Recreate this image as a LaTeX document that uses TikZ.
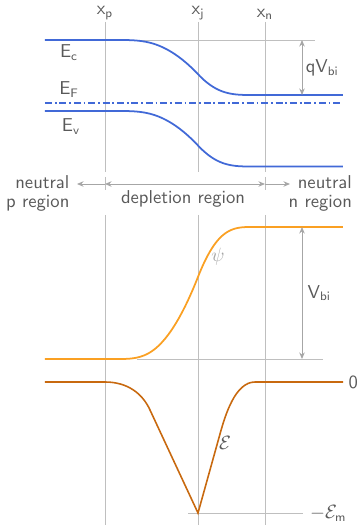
\documentclass[tikz,border=0pt]{standalone}
\usetikzlibrary{arrows.meta, positioning, calc}
\usepackage{xcolor}
\usepackage{amsmath}
\definecolor{bandblue}{RGB}{65,105,215}
\definecolor{psiorange}{RGB}{250,160,35}
\definecolor{fieldbrown}{RGB}{200,105,15}
\tikzset{
    guide/.style={black!25, line width=0.5pt},
    band/.style={bandblue, line width=1pt},
    lbl/.style={text=black!65, font=\sffamily\fontsize{10.6}{12}\selectfont, inner sep=1pt},
    span/.style={black!35, line width=0.5pt, {Stealth[length=1.3mm,width=1.1mm]}-{Stealth[length=1.3mm,width=1.1mm]}},
    tip/.style={black!35, line width=0.5pt, -{Stealth[length=1.3mm,width=1.1mm]}},
    declare function={prof(\x)=(\x<2.35) ? 0 : ((\x<3.05) ? ((\x-2.35)^3/5.4989) : ((\x<3.96) ? (((\x-2.70)^2/2+0.0204)/1.3093) : ((\x<4.34) ? (1-((4.69-\x)^2/2+0.0204)/0.7585) : ((\x<5.04) ? (1-(5.04-\x)^3/3.1859) : 1))));}
}

\begin{document}
\begin{tikzpicture}[>=Stealth]
        \useasboundingbox (0,0) rectangle (7.16,10.5);
        % junction markers
        \draw[guide] (2.10,10.06) coordinate (ptop) -- (2.10,7.06);
        \draw[guide] (3.96,10.06) coordinate (jtop) -- (3.96,7.06);
        \draw[guide] (5.30,10.06) coordinate (ntop) -- (5.30,7.06);
        \draw[guide] (2.10,6.96) -- (2.10,6.70);
        \draw[guide] (5.30,6.96) -- (5.30,6.70);
        \draw[guide] (2.10,6.20) -- (2.10,0);
        \draw[guide] (3.96,6.20) -- (3.96,0);
        \draw[guide] (5.30,6.20) -- (5.30,0);
        \node[lbl, above=0pt of ptop] (xp) {x$_\mathsf{p}$};
        \node[lbl, above=0pt of jtop] (xj) {x$_\mathsf{j}$};
        \node[lbl, above=0pt of ntop] (xn) {x$_\mathsf{n}$};

        % band diagram
        \draw[guide] (2.10,9.70) -- (6.30,9.70);
        \draw[band] plot[domain=0.9:6.86, samples=160] (\x, {9.70-1.10*prof(\x)});
        \draw[band] plot[domain=0.9:6.86, samples=160] (\x, {8.28-1.11*prof(\x)});
        \draw[band, dash pattern=on 4pt off 1.6pt on 1pt off 1.6pt] (0.90,8.44) -- (6.86,8.44);
        \coordinate (ecp) at (6.04,9.70);
        \coordinate (ecn) at (6.04,8.60);
        \draw[span] (ecp) -- (ecn);
        \node[lbl, right=1pt of $(ecp)!0.5!(ecn)$] (qvbi) {qV$_\mathsf{bi}$};
        \node[lbl] (ec) at (1.38,9.44) {E$_\mathsf{c}$};
        \node[lbl] (ef) at (1.38,8.70) {E$_\mathsf{F}$};
        \node[lbl] (ev) at (1.42,7.96) {E$_\mathsf{v}$};

        % regions
        \coordinate (pmark) at (2.10,6.82);
        \coordinate (nmark) at (5.30,6.82);
        \node[lbl, align=right, anchor=east] (pside) at (1.43,6.63) {neutral\\[-1.5pt]p region};
        \node[lbl, align=right, anchor=east] (nside) at (7.08,6.63) {neutral\\[-1.5pt]n region};
        \node[lbl] (depl) at (3.66,6.52) {depletion region};
        \draw[span] (pmark) -- (nmark);
        \draw[tip] (pmark) -- (1.54,6.82);
        \draw[tip] (nmark) -- (5.80,6.82);

        % potential
        \draw[guide] (2.74,3.32) -- (6.46,3.32);
        \draw[psiorange, line width=1pt] plot[domain=0.9:6.86, samples=160] (\x, {3.32+2.64*prof(\x)});
        \coordinate (psin) at (6.04,5.96);
        \coordinate (psip) at (6.04,3.32);
        \draw[span] (psin) -- (psip);
        \node[lbl, right=2pt of $(psin)!0.5!(psip)$] (vbi) {V$_\mathsf{bi}$};
        \node[lbl, text=black!35] (psi) at (4.36,5.36) {$\psi$};

        % field
        \draw[guide] (3.76,0.24) -- (6.06,0.24);
        \draw[fieldbrown, line width=0.9pt] (0.90,2.86) -- (2.10,2.86)
            .. controls (2.55,2.86) and (2.85,2.63) .. (3.00,2.30)
            -- (3.96,0.24) coordinate (emin) -- (4.40,1.82)
            .. controls (4.50,2.18) and (4.70,2.86) .. (5.10,2.86)
            -- (6.86,2.86) coordinate (fend);
        \node[lbl, right=2pt of fend] (zero) {0};
        \node[lbl, anchor=west] (emlbl) at (6.16,0.24) {$-\mathcal{E}_\mathsf{m}$};
        \node[lbl] (elbl) at (4.50,1.64) {$\mathcal{E}$};
    \end{tikzpicture}
\end{document}
